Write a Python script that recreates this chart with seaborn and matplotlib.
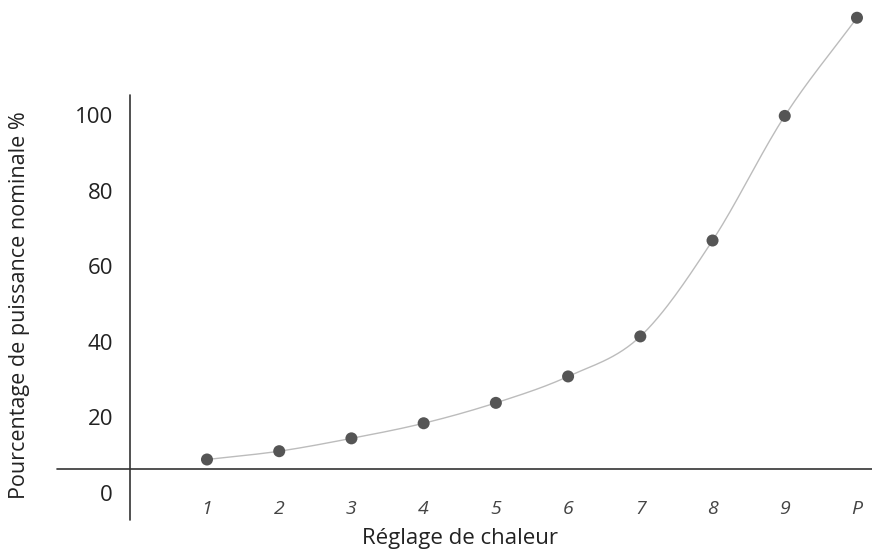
import numpy as np
import pandas as pd
import seaborn as sns
from matplotlib import pyplot as plt

# heat settings and rated power share
settings = ['1', '2', '3', '4', '5', '6', '7', '8', '9', 'P']
power_pct = [9, 11.2, 14.6, 18.6, 24, 31, 41.6, 67, 100, 126]
y_ticks = [0, 20, 40, 60, 80, 100]

sns.set_theme(style='white')
plt.rcParams['font.family'] = ['Open Sans', 'DejaVu Sans']

df = pd.DataFrame({'pos': np.arange(1, len(settings) + 1), 'pct': power_pct})

# smooth line through the points (Catmull-Rom)
def catmull_rom(x, y, n=30):
    x = np.asarray(x, float)
    y = np.asarray(y, float)
    px = np.concatenate([[2 * x[0] - x[1]], x, [2 * x[-1] - x[-2]]])
    py = np.concatenate([[2 * y[0] - y[1]], y, [2 * y[-1] - y[-2]]])
    xs, ys = [], []
    t = np.linspace(0, 1, n)
    for i in range(1, len(px) - 2):
        for p, out in ((px, xs), (py, ys)):
            p0, p1, p2, p3 = p[i - 1], p[i], p[i + 1], p[i + 2]
            out.extend(0.5 * (2 * p1 + (-p0 + p2) * t + (2 * p0 - 5 * p1 + 4 * p2 - p3) * t ** 2
                              + (-p0 + 3 * p1 - 3 * p2 + p3) * t ** 3))
    return pd.DataFrame({'pos': xs, 'pct': ys})

curve = catmull_rom(df['pos'], df['pct'])

fig = plt.figure(figsize=(8.72, 5.52), dpi=100)
ax = fig.add_axes([0, 0, 1, 1])
ax.set_xlim(-1.866, 10.208)
ax.set_ylim(-15.5, 130.7)
ax.axis('off')

sns.lineplot(data=curve, x='pos', y='pct', color='#bcbcbc', linewidth=1.0, sort=False, ax=ax, clip_on=False)
sns.scatterplot(data=df, x='pos', y='pct', color='#555555', s=75, edgecolor='none', ax=ax, zorder=3, clip_on=False)

# axis lines
ax.plot([-0.066, -0.066], [-7, 105.6], color='#333333', linewidth=1.2)
ax.plot([-1.077, 10.3], [6.5, 6.5], color='#333333', linewidth=1.2)

# tick labels
for v in y_ticks:
    ax.text(-0.30, v - 0.5, str(v), ha='right', va='center', fontsize=16, color='#222222')
for i, s in enumerate(settings):
    ax.text(i + 1, -4.2, s, ha='center', va='center', fontsize=14, color='#444444',
            fontstyle='italic')

ax.text(-1.6, 50, 'Pourcentage de puissance nominale %', rotation=90, ha='center', va='center',
        fontsize=15.5, color='#222222')
ax.text(4.5, -11.8, 'Réglage de chaleur', ha='center', va='center', fontsize=16, color='#222222')

fig.savefig('out.png', dpi=100)
